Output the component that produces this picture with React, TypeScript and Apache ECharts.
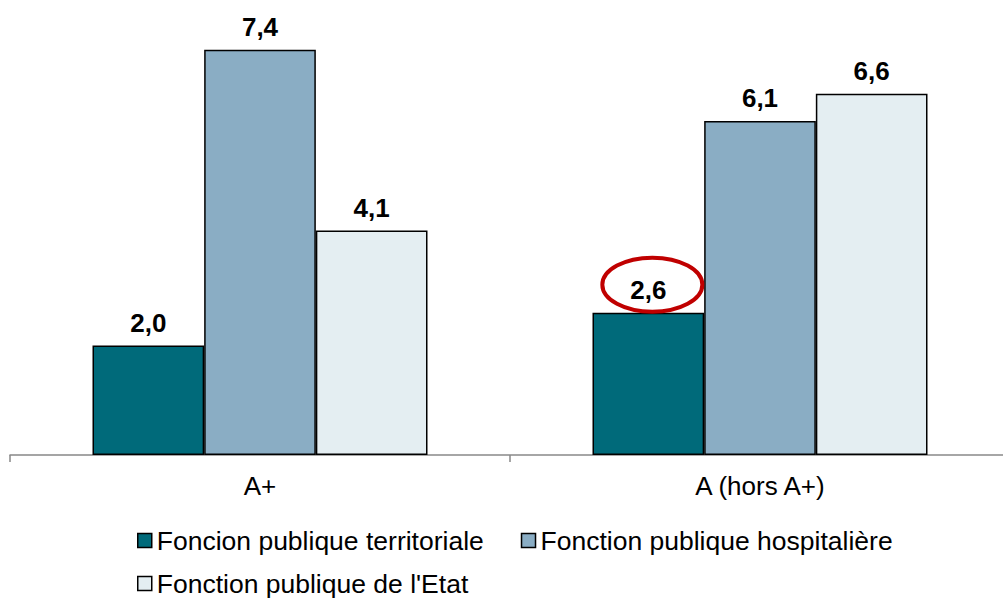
import React, { useEffect, useRef } from "react";
import * as echarts from "echarts";

const categories = ["A+", "A (hors A+)"];
const seriesNames = [
  "Foncion publique territoriale",
  "Fonction publique hospitalière",
  "Fonction publique de l'Etat",
];
const territoriale = [2.0, 2.6];
const hospitaliere = [7.4, 6.1];
const etat = [4.1, 6.6];
const colors = ["#006A7A", "#8AADC4", "#E4EEF2"];

const FONT = "'Liberation Sans', Arial, sans-serif";

export default function App() {
  const ref = useRef<HTMLDivElement>(null);
  useEffect(() => {
    if (!ref.current) return;
    const chart = echarts.init(ref.current, undefined, { renderer: "svg" });
    const values = [territoriale, hospitaliere, etat];
    const series = values.map((v, i) => ({
      name: seriesNames[i],
      type: "bar",
      data: v,
      barGap: "0%",
      barCategoryGap: "33%",
      itemStyle: { color: colors[i], borderColor: "#000", borderWidth: 1.5 },
      label: {
        show: true,
        position: "top",
        distance: 10,
        fontFamily: FONT,
        fontWeight: "bold",
        fontSize: 26,
        color: "#000",
        formatter: (p: any) => p.value.toFixed(1).replace(".", ","),
      },
    }));
    const legendCommon = {
      orient: "horizontal",
      itemWidth: 14,
      itemHeight: 14,
      itemGap: 37,
      padding: 0,
      icon: "rect",
      textStyle: { fontFamily: FONT, fontSize: 26.5, color: "#000" },
      itemStyle: { borderColor: "#000", borderWidth: 1.5 },
      selectedMode: false,
    };
    chart.setOption({
      animation: false,
      backgroundColor: "#fff",
      grid: { left: 10, top: 17, width: 1000, height: 438, outerBoundsMode: "none", containLabel: false },
      xAxis: {
        type: "category",
        data: categories,
        axisLine: { show: true, lineStyle: { color: "#888", width: 1.5 } },
        axisTick: { show: true, length: 7, lineStyle: { color: "#888", width: 1.5 } },
        axisLabel: { fontFamily: FONT, fontSize: 26, color: "#000", margin: 18 },
      },
      yAxis: {
        type: "value",
        min: 0,
        max: 8,
        show: false,
        splitLine: { show: false },
      },
      legend: [
        { ...legendCommon, left: 137, top: 527, data: [seriesNames[0], seriesNames[1]] },
        { ...legendCommon, left: 137, top: 570, data: [seriesNames[2]] },
      ],
      series,
    });
    try {
      const data = (chart as any).getModel().getSeriesByIndex(0).getData();
      const lay = data.getItemLayout(1);
      const top = Math.min(lay.y, lay.y + lay.height);
      const cx = lay.x + lay.width / 2 + 4;
      chart.setOption({
        graphic: [
          {
            type: "ellipse",
            shape: { cx, cy: top - 28, rx: 50, ry: 27 },
            style: { fill: "none", stroke: "#C00000", lineWidth: 4 },
            z: 10,
          },
        ],
      });
    } catch (e) {}
    return () => chart.dispose();
  }, []);
  return (
    <div
      ref={ref}
      style={{ position: "absolute", left: 0, top: 0, width: 1003, height: 598 }}
    />
  );
}
